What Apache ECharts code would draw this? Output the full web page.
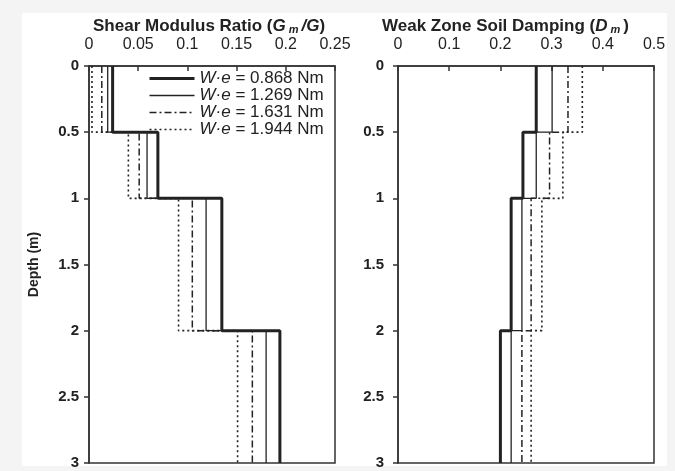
<!DOCTYPE html>
<html>
<head>
<meta charset="utf-8">
<script src="https://cdn.jsdelivr.net/npm/echarts@6/dist/echarts.min.js"></script>
<style>
  html, body { margin: 0; padding: 0; background: #f4f4f4; }
  #chart { width: 675px; height: 471px; }
</style>
</head>
<body>
<div id="chart"></div>
<script>
// layer boundaries (depth, m)
const depthBreaks = [0, 0.5, 1, 2, 3]

// shear modulus ratio Gm/G per layer
const gmRatio0868 = [0.024, 0.070, 0.135, 0.194]
const gmRatio1269 = [0.019, 0.059, 0.119, 0.180]
const gmRatio1631 = [0.013, 0.051, 0.105, 0.166]
const gmRatio1944 = [0.003, 0.040, 0.091, 0.151]

// weak zone soil damping Dm per layer
const damping0868 = [0.270, 0.244, 0.221, 0.200]
const damping1269 = [0.301, 0.270, 0.242, 0.221]
const damping1631 = [0.332, 0.296, 0.260, 0.242]
const damping1944 = [0.360, 0.322, 0.281, 0.260]

const energyLabels = ['0.868', '1.269', '1.631', '1.944']
const depthTicks = [0, 0.5, 1, 1.5, 2, 2.5, 3]

const font = 'Liberation Sans, Arial, sans-serif'
const ink = '#222'

const lineStyles = [
  { width: 3, type: 'solid' },
  { width: 1.3, type: 'solid' },
  { width: 1.5, type: [7, 3, 2, 3] },
  { width: 1.6, type: [2, 3] },
]

// turn per-layer values into a step profile down the depth axis
function stepProfile(values) {
  const pts = []
  values.forEach((v, i) => {
    pts.push([v, depthBreaks[i]])
    pts.push([v, depthBreaks[i + 1]])
  })
  return pts
}

const seriesName = (label) => `W·e = ${label} Nm`

function makeSeries(groups, axisIndex) {
  return groups.map((values, i) => ({
    name: seriesName(energyLabels[i]),
    type: 'line',
    xAxisIndex: axisIndex,
    yAxisIndex: axisIndex,
    data: stepProfile(values),
    symbol: 'none',
    lineStyle: { color: ink, width: lineStyles[i].width, type: lineStyles[i].type },
    itemStyle: { color: ink },
    z: 10 - i,
  }))
}

const grids = [
  { left: 89, top: 66, width: 246, height: 397 },
  { left: 398, top: 66, width: 256, height: 397 },
]

const xAxisBase = {
  type: 'value',
  position: 'top',
  axisLine: { show: true, lineStyle: { color: '#333', width: 1.5 } },
  axisTick: { show: true, inside: true, length: 5, lineStyle: { color: '#333', width: 1.5 } },
  axisLabel: { color: ink, fontSize: 16, fontFamily: font, margin: 13 },
  splitLine: { show: false },
}

const yAxisBase = {
  type: 'value',
  inverse: true,
  min: depthTicks[0],
  max: depthTicks[depthTicks.length - 1],
  interval: depthTicks[1] - depthTicks[0],
  axisLine: { show: true, lineStyle: { color: '#333', width: 1.5 } },
  axisTick: { show: true, length: 5, lineStyle: { color: '#333', width: 1.5 } },
  axisLabel: { color: ink, fontSize: 15, fontFamily: font, margin: 10, fontWeight: 'bold' },
  splitLine: { show: false },
}

const titleRich = {
  b: { fontFamily: font, fontSize: 17, fontWeight: 'bold', color: ink },
  bi: { fontFamily: font, fontSize: 17, fontWeight: 'bold', fontStyle: 'italic', color: ink },
  sub: { fontFamily: font, fontSize: 11, fontWeight: 'bold', fontStyle: 'italic', color: ink, verticalAlign: 'bottom', padding: [7, 3, 0, 3] },
}

const option = {
  animation: false,
  backgroundColor: '#f4f4f4',
  graphic: [
    { type: 'rect', left: 22, top: 13, shape: { width: 645, height: 453 }, style: { fill: '#fff' }, z: -10, silent: true },
  ],
  title: [
    {
      text: '{b|Shear Modulus Ratio (}{bi|G}{sub|m}{bi|/G}{b|)}',
      left: 88, top: 12,
      textStyle: { rich: titleRich },
    },
    {
      text: '{b|Weak Zone Soil Damping (}{bi|D}{sub|m}{b|)}',
      left: 377, top: 12,
      textStyle: { rich: titleRich },
    },
  ],
  grid: grids.map((g) => ({ ...g, show: true, borderColor: '#333', borderWidth: 1.5, backgroundColor: 'transparent' })),
  xAxis: [
    { ...xAxisBase, gridIndex: 0, min: 0, max: 0.25, interval: 0.05 },
    { ...xAxisBase, gridIndex: 1, min: 0, max: 0.5, interval: 0.1 },
  ],
  yAxis: [
    {
      ...yAxisBase,
      gridIndex: 0,
      name: 'Depth (m)',
      nameLocation: 'middle',
      nameGap: 48,
      nameRotate: 90,
      nameTextStyle: { color: ink, fontSize: 14, fontFamily: font, fontWeight: 'bold' },
    },
    { ...yAxisBase, gridIndex: 1, axisLabel: { ...yAxisBase.axisLabel, margin: 14 } },
  ],
  legend: {
    orient: 'vertical',
    left: 148,
    top: 70,
    padding: 0,
    itemWidth: 45,
    itemHeight: 10,
    itemGap: 0,
    itemStyle: { color: 'rgba(0,0,0,0)', borderWidth: 0, opacity: 0 },
    data: energyLabels.map((label, i) => ({
      name: seriesName(label),
      lineStyle: { color: ink, width: lineStyles[i].width, type: lineStyles[i].type },
    })),
    formatter: (name) => `{i|W·e}{n|${name.slice(3)}}`,
    textStyle: {
      lineHeight: 15,
      rich: {
        i: { fontFamily: font, fontSize: 17, fontStyle: 'italic', color: ink, lineHeight: 15 },
        n: { fontFamily: font, fontSize: 17, color: ink, lineHeight: 15 },
      },
    },
  },
  series: [
    ...makeSeries([gmRatio0868, gmRatio1269, gmRatio1631, gmRatio1944], 0),
    ...makeSeries([damping0868, damping1269, damping1631, damping1944], 1),
  ],
}

const chart = echarts.init(document.getElementById('chart'), null, { renderer: 'canvas' })
chart.setOption(option)
</script>
</body>
</html>
